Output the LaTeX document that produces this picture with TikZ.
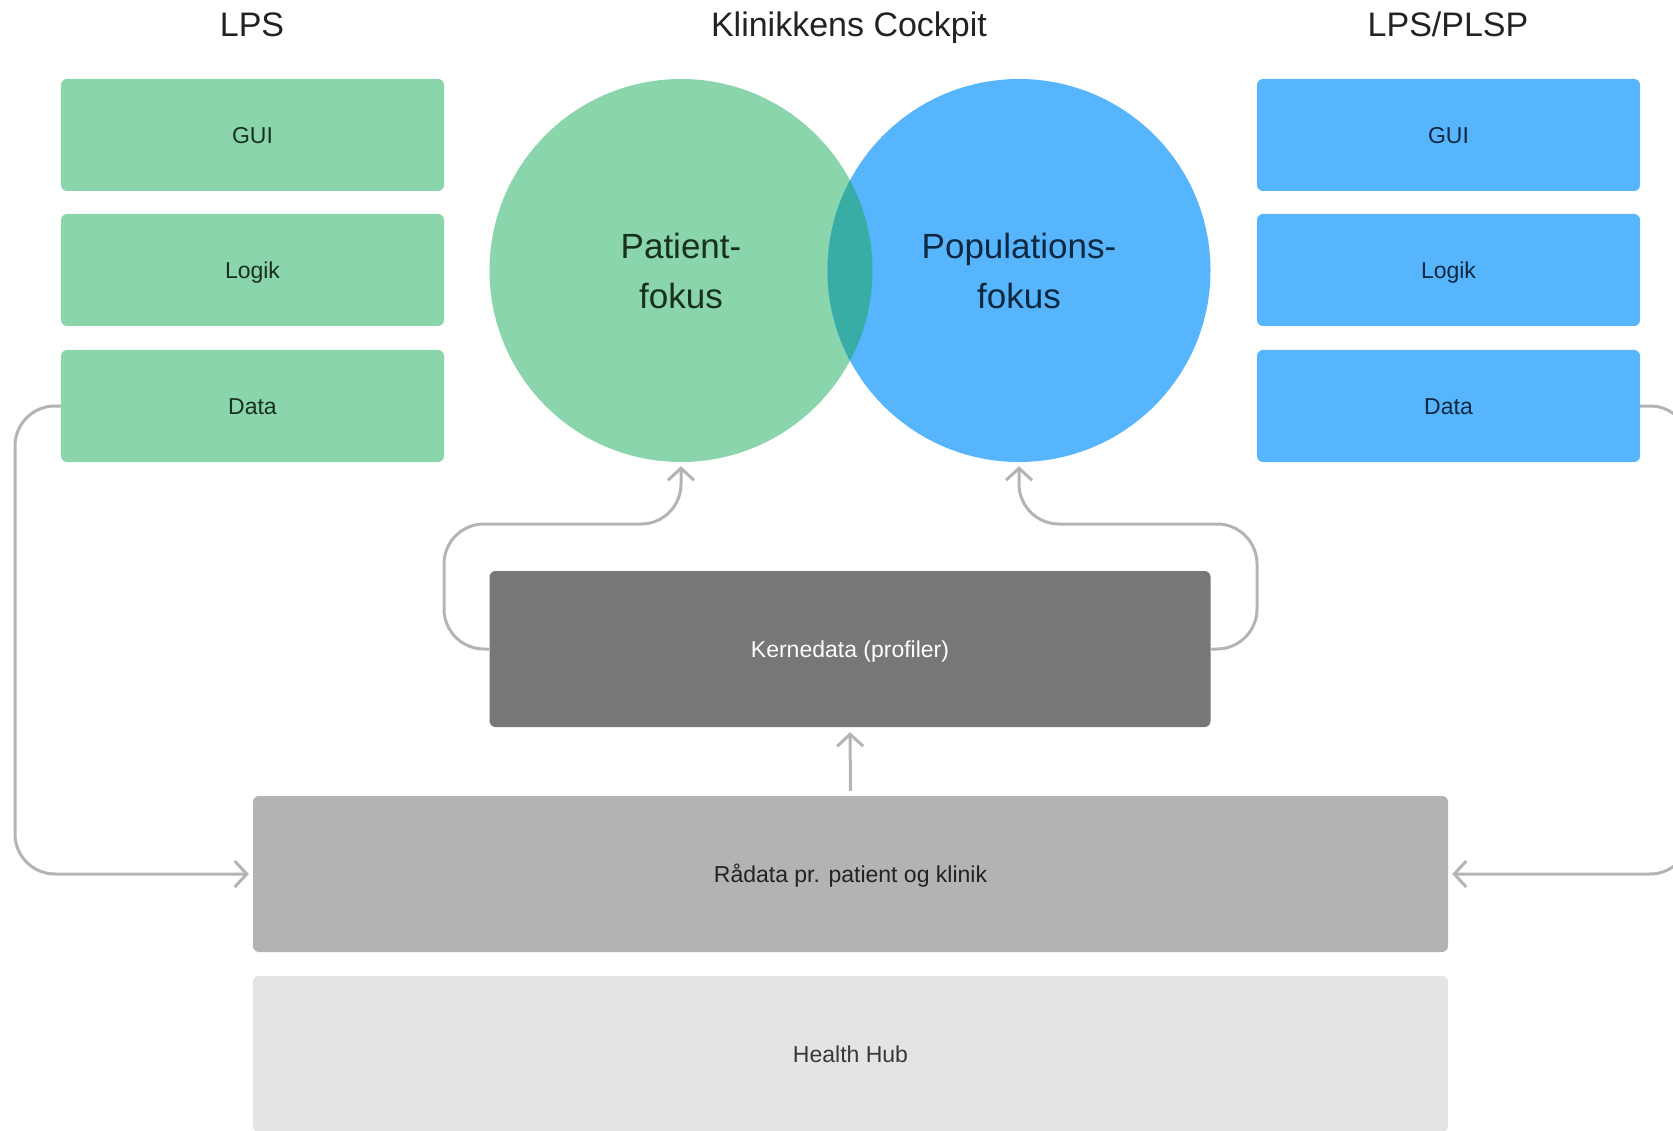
\documentclass[tikz,border=0pt]{standalone}
\usepackage{fontspec}
\setmainfont{Liberation Sans}
\usetikzlibrary{arrows.meta}
\definecolor{grn}{HTML}{8AD5AB}
\definecolor{blu}{HTML}{56B5FD}
\definecolor{lens}{HTML}{37ADA6}
\definecolor{conn}{HTML}{B4B4B4}
\definecolor{gtext}{HTML}{18301F}
\definecolor{btext}{HTML}{0C2740}
\definecolor{dkgray}{HTML}{777777}
\definecolor{mdgray}{HTML}{B3B3B3}
\definecolor{ltgray}{HTML}{E4E4E4}
\definecolor{ink}{HTML}{222222}
\tikzset{
  title/.style={text=ink, font=\fontsize{34}{40}\selectfont, text height=24.3pt, text depth=0pt, inner sep=0pt},
  layerbox/.style={rounded corners=6pt, minimum width=383pt, minimum height=112pt, inner sep=0pt, font=\fontsize{23}{27}\selectfont, text height=16.5pt, text depth=0pt},
  greenbox/.style={layerbox, fill=grn, text=gtext},
  bluebox/.style={layerbox, fill=blu, text=btext},
  widebox/.style={rounded corners=6pt, inner sep=0pt, font=\fontsize{23}{27}\selectfont, text height=16.5pt, text depth=0pt},
  circtext/.style={align=center, font=\fontsize{35}{50}\selectfont},
  conn/.style={draw=conn, line width=3pt, rounded corners=40pt, -{Straight Barb[length=12pt,width=26pt,line width=3pt]}}
}
\begin{document}
\begin{tikzpicture}[x=1pt,y=-1pt]
\useasboundingbox (0,0) rectangle (1673,1131);
\clip (0,0) rectangle (1673,1131);

% titles
\node[title] (tlps) at (252,24) {LPS};
\node[title] (tkc) at (849,24) {Klinikkens Cockpit};
\node[title] (tplsp) at (1448,24) {LPS/PLSP};

% left stack
\node[greenbox] (lgui) at (252.5,135) {GUI};
\node[greenbox] (llog) at (252.5,270) {Logik};
\node[greenbox] (ldata) at (252.5,406) {Data};

% right stack
\node[bluebox] (rgui) at (1448.5,135) {GUI};
\node[bluebox] (rlog) at (1448.5,270) {Logik};
\node[bluebox] (rdata) at (1448.5,406) {Data};

% circles
\node[circle, fill=grn, minimum size=383pt, inner sep=0pt] (pcirc) at (681,270.5) {};
\node[circle, fill=blu, minimum size=383pt, inner sep=0pt] (bcirc) at (1019,270.5) {};
\begin{scope}
  \clip (681,270.5) circle (191.5);
  \fill[lens] (1019,270.5) circle (191.5);
\end{scope}
\node[circtext, text=gtext] (ptxt) at (681,271) {Patient-\\fokus};
\node[circtext, text=btext] (btxt) at (1019,271) {Populations-\\fokus};

% central boxes
\node[widebox, fill=dkgray, text=white, minimum width=721pt, minimum height=156pt] (kern) at (850,649) {Kernedata (profiler)};
\node[widebox, fill=mdgray, text=ink, minimum width=1195pt, minimum height=156pt] (rad) at (850.5,874) {Rådata pr. patient og klinik};
\node[widebox, fill=ltgray, text=ink!90, minimum width=1195pt, minimum height=156pt] (hub) at (850.5,1054) {Health Hub};

% connectors
\coordinate (lbend1) at (15,406);
\coordinate (lbend2) at (15,874);
\draw[conn, shorten >=4pt] (ldata.west) -- (lbend1) -- (lbend2) -- (rad.west);

\coordinate (rbend1) at (1690,406);
\coordinate (rbend2) at (1690,874);
\draw[conn, shorten >=4pt] (rdata.east) -- (rbend1) -- (rbend2) -- (rad.east);

\coordinate (kl1) at (444,649);
\coordinate (kl2) at (444,524);
\coordinate (kl3) at (681,524);
\draw[conn, shorten >=4pt] (kern.west) -- (kl1) -- (kl2) -- (kl3) -- (pcirc.south);

\coordinate (kr1) at (1257,649);
\coordinate (kr2) at (1257,524);
\coordinate (kr3) at (1019,524);
\draw[conn, shorten >=4pt] (kern.east) -- (kr1) -- (kr2) -- (kr3) -- (bcirc.south);

\draw[conn, shorten <=5pt, shorten >=5pt] (rad.north) -- (kern.south);
\end{tikzpicture}
\end{document}
